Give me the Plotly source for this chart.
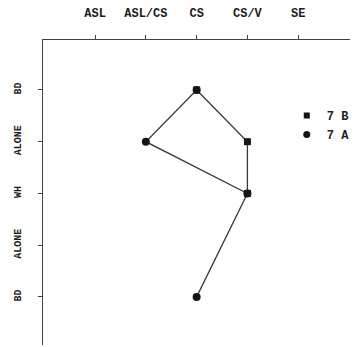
import plotly.graph_objects as go

# Response categories along the top axis
x_labels = ["ASL", "ASL/CS", "CS", "CS/V", "SE"]
# Condition sequence down the left axis
y_labels = ["BD", "ALONE", "WH", "ALONE", "BD"]

# Category chosen in each condition (None = no observation)
series_7b = ["CS", "CS/V", "CS/V", None, None]
series_7a = ["CS", "ASL/CS", "CS/V", None, "CS"]

series = [("7 B", series_7b, "square", 7), ("7 A", series_7a, "circle", 8)]

def to_x(vals):
    return [x_labels.index(v) if v is not None else None for v in vals]

y_pos = list(range(len(y_labels)))
line_color = "#3a3a3a"
mark_color = "#151515"
family = "Liberation Mono, DejaVu Sans Mono, monospace"
font_x = dict(family=family, size=12, color="#1c1c1c", weight="bold")
font_y = dict(family=family, size=10, color="#1c1c1c", weight="bold")

fig = go.Figure()
for name, vals, symbol, size in series:
    fig.add_trace(go.Scatter(
        x=to_x(vals), y=y_pos, name=name, mode="lines+markers",
        line=dict(color=line_color, width=1.3),
        marker=dict(symbol=symbol, size=size, color=mark_color),
        connectgaps=True, showlegend=False,
    ))
# Legend entries show the marker symbol only
for name, vals, symbol, size in series:
    fig.add_trace(go.Scatter(
        x=[None], y=[None], name=name, mode="markers",
        marker=dict(symbol=symbol, size=size - 1, color=mark_color),
        showlegend=True,
    ))

fig.update_layout(
    width=362, height=347,
    margin=dict(l=43, r=12, t=40, b=2),
    paper_bgcolor="white", plot_bgcolor="white",
    font=font_x,
    showlegend=True,
    legend=dict(x=0.794, y=0.80, xanchor="left", yanchor="top",
                font=font_x, bgcolor="rgba(0,0,0,0)", itemwidth=30,
                tracegroupgap=0, borderwidth=0),
    xaxis=dict(
        side="top", range=[-1.025, 5.02],
        tickvals=list(range(len(x_labels))), ticktext=x_labels,
        tickfont=font_x,
        showgrid=False, zeroline=False,
        showline=True, linecolor="#444", linewidth=1.3,
        ticks="outside", ticklen=4, tickcolor="#444",
        ticklabelstandoff=13,
    ),
    yaxis=dict(
        range=[4.93, -0.966],
        tickvals=y_pos, ticktext=y_labels, tickangle=-90,
        tickfont=font_y,
        showgrid=False, zeroline=False,
        showline=True, linecolor="#444", linewidth=1.3,
        ticks="outside", ticklen=4, tickcolor="#444",
        ticklabelstandoff=13,
    ),
)

fig.write_html("out.html")
